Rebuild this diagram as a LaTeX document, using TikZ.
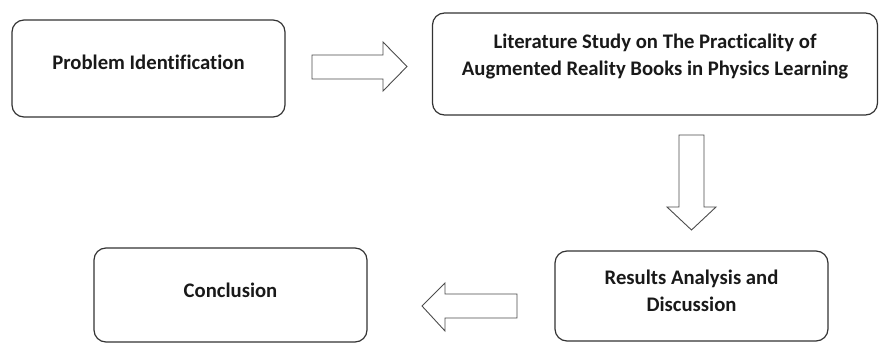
\documentclass[tikz,border=0pt]{standalone}
\usepackage{fontspec}
\setmainfont[Ligatures=NoCommon]{Carlito}
\begin{document}
\begin{tikzpicture}[x=1pt,y=1pt,
 box/.style={draw=black!80, line width=1.2pt, rounded corners=12pt, inner sep=0pt},
 blk/.style={draw=black!70, line width=0.9pt, fill=white, line join=miter},
 lbl/.style={font=\bfseries\fontsize{20.7}{27}\selectfont, align=center, text=black!90}]
\useasboundingbox (0,0) rectangle (879,343);
% boxes
\node[box, minimum width=273pt, minimum height=97pt] (b1) at (148.5,274.5) {};
\node[box, minimum width=445pt, minimum height=102pt] (b2) at (655,279) {};
\node[box, minimum width=273pt, minimum height=90pt] (b3) at (691.5,47) {};
\node[box, minimum width=273pt, minimum height=94pt] (b4) at (230.5,48) {};
% labels
\node[lbl] (t1) at (148.5,281) {Problem Identification};
\node[lbl] (t2) at (655,286.5) {Literature Study on The Practicality of\\Augmented Reality Books in Physics Learning};
\node[lbl] (t3) at (691.5,52) {Results Analysis and\\Discussion};
\node[lbl] (t4) at (230.5,53) {Conclusion};
% block arrows
\draw[blk] (312,264) -- (383,264) -- (383,252) -- (407,276.5) -- (383,301) -- (383,288) -- (312,288) -- cycle;
\draw[blk] (679,208) -- (679,136) -- (667,136) -- (691.5,113) -- (716,136) -- (704,136) -- (704,208) -- cycle;
\draw[blk] (517,49) -- (445,49) -- (445,60) -- (422,37) -- (445,12) -- (445,25) -- (517,25) -- cycle;
\end{tikzpicture}
\end{document}
